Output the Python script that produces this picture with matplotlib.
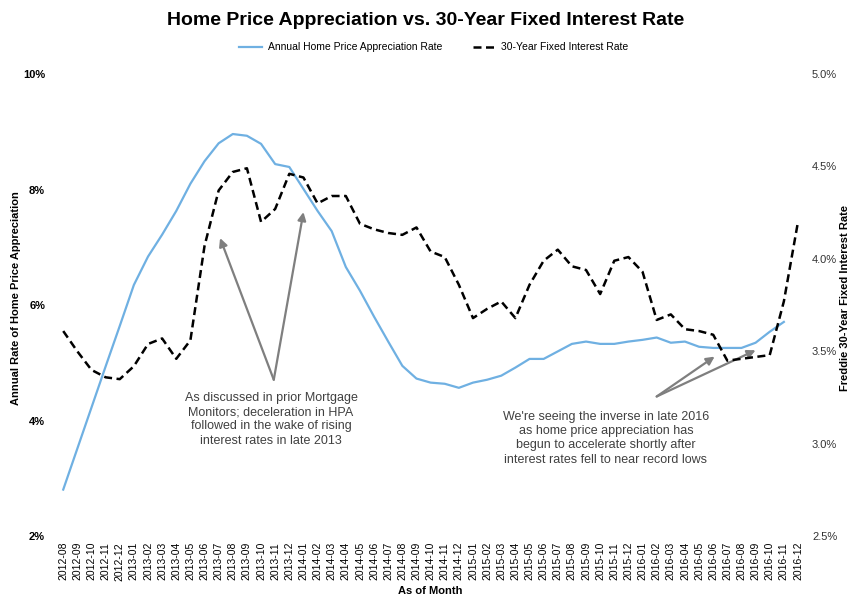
import matplotlib
matplotlib.use('Agg')
import matplotlib.pyplot as plt
import matplotlib.ticker as ticker

# month labels
months = ['2012-08', '2012-09', '2012-10', '2012-11', '2012-12',
          '2013-01', '2013-02', '2013-03', '2013-04', '2013-05', '2013-06',
          '2013-07', '2013-08', '2013-09', '2013-10', '2013-11', '2013-12',
          '2014-01', '2014-02', '2014-03', '2014-04', '2014-05', '2014-06',
          '2014-07', '2014-08', '2014-09', '2014-10', '2014-11', '2014-12',
          '2015-01', '2015-02', '2015-03', '2015-04', '2015-05', '2015-06',
          '2015-07', '2015-08', '2015-09', '2015-10', '2015-11', '2015-12',
          '2016-01', '2016-02', '2016-03', '2016-04', '2016-05', '2016-06',
          '2016-07', '2016-08', '2016-09', '2016-10', '2016-11', '2016-12']

# annual home price appreciation (%), through 2016-11
hpa = [2.81, 3.52, 4.23, 4.94, 5.64, 6.35, 6.84, 7.22, 7.63, 8.10, 8.49,
       8.80, 8.96, 8.93, 8.79, 8.44, 8.39, 8.01, 7.63, 7.28, 6.66, 6.25,
       5.80, 5.37, 4.95, 4.73, 4.66, 4.64, 4.57, 4.66, 4.71, 4.78, 4.92,
       5.07, 5.07, 5.20, 5.33, 5.37, 5.33, 5.33, 5.37, 5.40, 5.44, 5.35,
       5.37, 5.28, 5.26, 5.26, 5.26, 5.35, 5.54, 5.71]

# Freddie Mac 30-year fixed rate (%)
rate30 = [3.61, 3.50, 3.40, 3.36, 3.35, 3.42, 3.54, 3.57, 3.46, 3.56, 4.07,
          4.37, 4.47, 4.49, 4.20, 4.27, 4.46, 4.44, 4.30, 4.34, 4.34, 4.19,
          4.16, 4.14, 4.13, 4.17, 4.04, 4.01, 3.86, 3.68, 3.73, 3.77, 3.68,
          3.86, 3.99, 4.05, 3.96, 3.94, 3.81, 3.99, 4.01, 3.93, 3.67, 3.70,
          3.62, 3.61, 3.59, 3.45, 3.46, 3.47, 3.48, 3.77, 4.20]

left_ticks = [2, 4, 6, 8, 10]
right_ticks = [2.5, 3.0, 3.5, 4.0, 4.5, 5.0]

blue = '#6fb0e2'
grey_txt = '#404040'
plt.rcParams['font.family'] = ['Liberation Sans', 'DejaVu Sans']

fig = plt.figure(figsize=(8.51, 5.96), dpi=100)
ax = fig.add_axes([0.066, 0.1, 0.88, 0.776])
ax2 = ax.twinx()

x = list(range(len(months)))
l1, = ax.plot(x[:len(hpa)], hpa, color=blue, lw=1.6,
              label='Annual Home Price Appreciation Rate')
l2, = ax2.plot(x, rate30, color='black', lw=1.8, ls=(0, (3.2, 1.8)),
               label='30-Year Fixed Interest Rate')

ax.set_xlim(-0.5, len(months) - 0.5)
ax.set_ylim(2, 10)
ax2.set_ylim(2.5, 5.0)

ax.set_xticks(x)
ax.set_xticklabels(months, rotation=90, fontsize=7.5)
ax.set_yticks(left_ticks)
ax.yaxis.set_major_formatter(ticker.FuncFormatter(lambda v, p: '%d%%' % v))
ax2.set_yticks(right_ticks)
ax2.yaxis.set_major_formatter(ticker.FuncFormatter(lambda v, p: '%.1f%%' % v))

for a in (ax, ax2):
    for s in a.spines.values():
        s.set_visible(False)
    a.tick_params(length=0)
ax.tick_params(axis='y', labelsize=8, pad=8)
for t in ax.get_yticklabels():
    t.set_fontweight('bold')
ax.tick_params(axis='x', pad=4)
ax2.tick_params(axis='y', labelsize=8, labelcolor='#333333', pad=5)

ax.set_ylabel('Annual Rate of Home Price Appreciation', fontsize=8,
              fontweight='bold')
ax.yaxis.set_label_coords(16 / 851, 0.5, transform=fig.transFigure)
ax.yaxis.label.set_verticalalignment('center')
ax2.set_ylabel('Freddie 30-Year Fixed Interest Rate', fontsize=8,
               fontweight='bold', rotation=90)
ax2.yaxis.set_label_coords(845 / 851, 0.5, transform=fig.transFigure)
ax2.yaxis.label.set_verticalalignment('center')
ax.set_xlabel('As of Month', fontsize=8, fontweight='bold', labelpad=4)

fig.suptitle('Home Price Appreciation vs. 30-Year Fixed Interest Rate',
             fontsize=14, fontweight='bold', y=0.98)
fig.legend(handles=[l1, l2], loc='upper center', bbox_to_anchor=(0.51, 0.945),
           ncol=2, frameon=False, handlelength=2.2,
           columnspacing=3, handletextpad=0.5, prop={'size': 7.5})

arrow = dict(arrowstyle='-|>', color='#7f7f7f', lw=1.6, mutation_scale=12,
             shrinkA=0, shrinkB=0)
for hx, hy in [(11.1, 7.16), (17.0, 7.61)]:
    ax.annotate('', xy=(hx, hy), xytext=(14.9, 4.71), arrowprops=arrow)
for hx, hy in [(46.1, 5.11), (49.0, 5.22)]:
    ax.annotate('', xy=(hx, hy), xytext=(42.0, 4.42), arrowprops=arrow)

ax.text(14.7, 4.5, 'As discussed in prior Mortgage\nMonitors; deceleration in HPA\n'
        'followed in the wake of rising\ninterest rates in late 2013',
        ha='center', va='top', fontsize=9, color=grey_txt, linespacing=1.25)
ax.text(38.4, 4.17, "We're seeing the inverse in late 2016\nas home price appreciation has\n"
        'begun to accelerate shortly after\ninterest rates fell to near record lows',
        ha='center', va='top', fontsize=9, color=grey_txt, linespacing=1.25)

fig.savefig('out.png', dpi=100)
